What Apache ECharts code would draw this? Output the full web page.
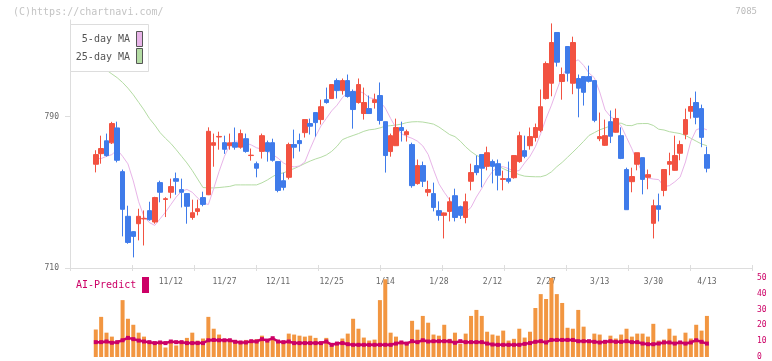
<!DOCTYPE html>
<html><head><meta charset="utf-8">
<script src="https://cdn.jsdelivr.net/npm/echarts@6/dist/echarts.min.js"></script>
<style>html,body{margin:0;padding:0;background:#fff}#c{width:772px;height:361px}</style>
</head><body><div id="c"></div>
<script>
const dates = ["10/22","10/23","10/24","10/27","10/28","10/29","10/30","10/31","11/4","11/5","11/6","11/7","11/10","11/11","11/12","11/13","11/14","11/17","11/18","11/19","11/20","11/21","11/25","11/26","11/27","11/28","12/1","12/2","12/3","12/4","12/5","12/8","12/9","12/10","12/11","12/12","12/15","12/16","12/17","12/18","12/19","12/22","12/23","12/24","12/25","12/26","12/29","12/30","1/5","1/6","1/7","1/8","1/9","1/13","1/14","1/15","1/16","1/19","1/20","1/21","1/22","1/23","1/26","1/27","1/28","1/29","1/30","2/2","2/3","2/4","2/5","2/6","2/9","2/10","2/12","2/13","2/16","2/17","2/18","2/19","2/20","2/24","2/25","2/26","2/27","3/2","3/3","3/4","3/5","3/6","3/9","3/10","3/11","3/12","3/13","3/16","3/17","3/18","3/19","3/23","3/24","3/25","3/26","3/27","3/30","3/31","4/1","4/2","4/3","4/6","4/7","4/8","4/9","4/10","4/13"];

const opens = [764.8,770.4,777.2,776.1,784.0,760.9,737.3,729.2,733.4,735.9,
740.3,734.3,755.1,746.2,750.0,757.2,751.4,749.3,736.7,739.9,
747.2,748.7,774.8,779.2,776.2,774.6,776.2,773.8,778.3,769.4,
765.1,771.6,776.2,776.2,766.2,756.1,757.9,775.2,777.3,781.5,
786.3,792.1,788.4,798.9,799.5,809.0,803.7,809.0,803.2,797.4,
791.6,794.2,797.4,801.1,787.3,771.5,774.6,784.2,780.4,775.2,
754.6,764.1,750.0,749.3,740.3,737.8,739.9,748.2,742.4,736.7,
755.8,764.1,769.9,763.7,766.2,765.1,756.8,757.2,757.7,766.2,
772.0,774.6,778.9,782.7,799.5,807.6,834.4,808.5,827.0,807.6,
810.1,811.1,811.1,809.0,778.3,774.8,787.3,781.7,779.9,762.0,
755.6,764.8,768.3,757.9,733.6,742.9,751.0,764.8,761.6,770.6,
780.6,792.8,797.4,794.2,769.9];

const closes = [769.9,773.1,769.4,786.3,766.9,741.0,723.5,726.7,737.3,736.2,
735.5,747.2,750.0,746.6,753.0,755.8,750.0,742.6,739.2,741.3,
743.6,782.2,776.2,779.5,772.7,776.1,773.8,781.0,771.6,769.6,
762.7,779.9,771.6,766.9,751.0,752.6,775.2,773.8,775.7,788.4,
784.9,786.8,795.2,797.4,806.9,803.7,809.0,800.6,793.7,806.9,
797.4,791.6,798.9,787.9,769.4,779.9,784.2,782.6,782.0,753.5,
764.1,755.8,751.4,742.0,737.8,739.1,745.0,736.7,737.8,745.0,
760.4,760.4,762.7,770.9,763.7,759.0,757.2,755.8,769.4,779.9,
769.0,779.4,784.2,795.2,818.0,829.1,818.7,812.2,812.9,829.1,
805.0,802.8,808.6,788.0,779.4,779.9,779.6,789.0,767.9,740.8,
758.3,770.9,756.8,759.3,742.9,741.0,762.0,766.2,769.4,775.2,
788.4,795.3,789.6,779.0,762.7];

const lows = [760.5,765.1,768.8,775.5,765.8,726.7,722.8,715.6,724.6,721.9,
735.0,733.4,744.7,736.9,746.8,748.7,742.0,733.4,735.5,737.8,
742.6,748.5,763.5,772.5,770.3,772.5,772.5,773.0,770.9,766.7,
757.9,767.8,766.2,766.2,750.0,751.0,756.8,767.9,771.5,778.9,
780.5,779.4,785.8,796.8,799.5,799.5,801.6,800.0,783.6,796.8,
788.4,791.6,794.2,785.8,760.4,768.8,774.6,776.8,776.8,752.4,
754.0,752.8,747.9,739.9,735.0,725.6,734.6,734.6,735.9,733.6,
751.0,759.0,752.6,761.6,754.7,751.0,751.0,754.7,757.2,765.6,
768.0,772.5,776.8,781.7,799.0,800.7,816.4,798.9,808.5,801.8,
789.6,795.8,808.0,787.0,777.0,774.5,776.0,781.5,767.5,740.8,
750.0,761.6,748.9,751.6,725.6,734.6,747.9,759.0,761.4,766.9,
778.0,788.9,785.9,773.8,760.5];

const highs = [772.2,779.9,781.0,787.2,787.3,762.0,742.9,729.5,741.3,740.4,
745.0,747.6,756.1,747.4,757.2,760.4,757.2,749.6,746.1,746.1,
750.3,784.3,781.0,782.0,779.9,781.0,784.2,783.1,781.0,773.1,
766.2,781.0,777.3,778.3,766.2,760.4,776.2,783.1,781.0,788.4,
788.9,792.1,798.9,805.3,806.9,810.1,810.1,812.2,804.3,810.1,
805.3,801.1,802.1,808.0,787.3,781.0,788.9,787.3,783.1,776.2,
767.3,766.2,756.1,755.1,745.2,739.3,747.3,751.9,742.9,749.3,
765.1,769.4,769.9,774.1,767.3,767.3,761.4,766.2,769.6,782.0,
779.9,784.2,786.3,804.3,819.1,839.2,834.4,815.9,827.0,832.2,
812.2,811.1,816.9,809.0,792.1,788.4,793.2,794.2,784.3,763.0,
763.0,770.9,768.3,762.0,746.1,749.3,762.0,770.9,779.9,777.3,
794.2,799.9,803.2,796.3,774.1];

const ma5 = [767.8,767.8,769.0,769.9,772.5,769.0,765.0,756.0,745.0,737.0,
734.0,732.5,736.0,739.5,743.5,747.5,750.5,751.5,750.0,747.0,
744.5,743.5,752.0,761.0,769.0,775.0,777.0,777.0,776.0,775.0,
773.5,772.7,771.6,769.9,768.0,765.5,764.0,763.4,763.9,766.0,
773.0,779.5,785.0,789.0,793.0,796.0,800.0,802.5,803.4,803.5,
802.3,800.0,799.3,798.0,794.5,789.0,784.0,781.0,779.5,778.5,
777.0,774.5,770.0,762.0,754.5,750.0,746.0,742.5,740.5,739.5,
742.0,747.5,752.0,757.0,761.0,763.5,763.5,762.5,761.0,761.5,
765.5,769.0,774.0,781.0,789.0,796.0,804.0,811.5,816.0,818.5,
820.0,817.0,813.0,810.5,803.0,793.5,790.0,788.0,785.0,779.0,
773.0,766.0,760.0,757.5,757.0,756.7,753.0,753.5,755.5,758.0,
766.0,777.0,783.0,784.0,783.0];

const ma25 = [819.0,817.0,814.5,812.5,810.5,808.0,805.0,801.5,797.5,793.5,
789.0,785.5,781.5,778.5,775.8,772.5,769.0,765.5,761.5,757.0,
752.5,752.3,752.3,752.5,752.8,753.1,753.9,753.9,753.9,753.9,
753.9,755.0,756.5,758.3,759.8,760.2,761.5,762.5,763.8,765.2,
766.5,767.6,768.5,769.7,771.6,774.3,777.8,779.0,780.0,781.0,
782.2,783.0,783.3,784.0,784.9,785.2,785.5,786.0,786.8,787.2,
787.3,787.1,786.6,786.0,784.5,782.5,780.5,779.4,777.0,774.0,
771.5,769.5,768.3,767.0,765.5,764.0,762.5,761.2,760.5,759.3,
758.5,758.3,758.2,758.2,759.0,760.8,763.5,765.8,768.5,771.2,
774.0,776.9,780.0,781.5,783.0,784.0,785.0,786.5,786.5,785.3,
785.2,786.2,786.3,786.3,785.3,783.3,782.9,782.0,781.5,781.0,
780.0,778.5,777.0,775.5,774.6];

const volume = [17.4,25.4,15.4,12.9,9.2,36.0,24.2,20.4,15.4,12.9,
9.2,9.2,9.2,6.0,9.2,7.3,9.2,12.1,15.4,10.4,
11.7,25.4,17.9,14.2,10.8,10.8,10.8,9.2,10.8,10.8,
11.3,13.5,10.8,11.7,9.2,9.2,14.8,14.2,13.5,12.9,
13.5,12.1,8.5,12.1,7.3,9.2,11.7,14.8,24.2,17.9,
12.3,10.4,11.0,36.0,49.2,15.4,12.9,8.3,8.3,22.9,
17.3,26.0,21.7,14.2,13.5,20.4,11.5,15.4,8.3,14.8,
26.0,29.8,26.0,16.0,14.2,13.5,16.7,10.4,11.5,17.9,
12.3,16.0,31.0,39.8,36.7,50.0,39.8,34.2,18.5,17.9,
29.8,19.2,9.4,14.8,14.2,9.2,13.5,11.7,14.2,17.9,
12.9,14.8,14.8,12.9,21.0,10.4,11.0,17.9,13.5,8.0,
15.4,11.7,20.4,16.7,26.0];

const aiPredict = [9.4,9.4,9.8,9.0,9.4,10.6,12.1,11.3,10.4,9.8,
9.4,8.8,9.2,8.8,9.8,9.4,9.4,8.8,8.8,8.8,
8.8,10.6,10.8,10.6,10.6,10.6,9.6,9.2,9.2,10.0,
9.8,11.3,10.4,11.9,9.8,9.4,9.8,8.8,8.8,8.8,
8.8,8.8,8.8,9.8,7.7,8.5,8.8,8.1,7.7,7.7,
7.7,7.7,7.7,7.7,7.7,7.7,8.5,9.2,8.5,10.0,
9.4,10.6,9.8,10.0,10.0,10.0,10.0,9.0,10.0,9.4,
9.4,9.4,9.4,8.5,7.9,7.7,7.7,7.7,7.7,7.7,
8.3,8.8,9.6,10.0,9.2,10.8,10.8,10.8,10.8,10.8,
10.0,10.0,10.0,9.6,9.2,9.6,10.0,9.6,9.6,10.0,
9.4,9.4,8.5,8.1,8.1,8.5,9.2,9.2,8.5,9.2,
8.5,9.2,10.6,9.6,8.5];

const priceTicks = [710, 790];
const priceMin = 710, priceMax = 841;
const volMax = 50, volInterval = 10;

const FONT = '"DejaVu Sans Mono","Liberation Mono",monospace';
const UP = '#f25241', DOWN = '#3f7bea';
const MA5C = '#e8b4e8', MA25C = '#b4dca4';
const VOLC = '#f29641', AIC = '#cc0066';
const AXC = '#dddddd';

const candles = dates.map((d, i) => [opens[i], closes[i], lows[i], highs[i]]);

const chart = echarts.init(document.getElementById('c'), null, {renderer: 'canvas'});
const gx = 93.1, gw = 616.5;
chart.setOption({
  animation: false,
  backgroundColor: '#ffffff',
  grid: [
    {left: 70, width: 682, top: 20, height: 248},
    {left: gx, width: gw, top: 20, height: 248},
    {left: gx, width: gw, top: 278, height: 80}
  ],
  xAxis: [
    {type: 'value', gridIndex: 0, min: 0, max: 11, interval: 1, position: 'bottom',
     axisLine: {show: true, lineStyle: {color: AXC}}, axisTick: {show: true, inside: true, length: 3, lineStyle: {color: AXC}},
     axisLabel: {show: false}, splitLine: {show: false}},
    {type: 'value', gridIndex: 0, min: 0, max: 11, interval: 1, position: 'bottom',
     axisLine: {show: true, lineStyle: {color: AXC}}, axisTick: {show: true, inside: false, length: 3, lineStyle: {color: AXC}},
     axisLabel: {show: false}, splitLine: {show: false}},
    {type: 'category', gridIndex: 1, data: dates, boundaryGap: true,
     axisLine: {show: false}, axisTick: {show: false}, splitLine: {show: false},
     axisLabel: {show: true, color: '#666', fontFamily: FONT, fontSize: 8, margin: 10,
       interval: function (idx) { return idx >= 14 && (idx - 14) % 10 === 0; }}},
    {type: 'category', gridIndex: 2, data: dates, boundaryGap: true,
     axisLine: {show: false}, axisTick: {show: false}, axisLabel: {show: false}, splitLine: {show: false}}
  ],
  yAxis: [
    {type: 'value', gridIndex: 0, min: priceMin, max: priceMax,
     axisLine: {show: true, lineStyle: {color: AXC}},
     axisTick: {show: true, length: 5, customValues: priceTicks, lineStyle: {color: AXC}},
     axisLabel: {show: true, customValues: priceTicks, color: '#666', fontFamily: FONT, fontSize: 8, margin: 11},
     splitLine: {show: false}},
    {type: 'value', gridIndex: 0, min: priceMin, max: priceMax,
     axisLine: {show: false},
     axisTick: {show: true, inside: true, length: 4, customValues: priceTicks, lineStyle: {color: AXC}},
     axisLabel: {show: false}, splitLine: {show: false}},
    {type: 'value', gridIndex: 1, min: priceMin, max: priceMax, show: false},
    {type: 'value', gridIndex: 2, min: 0, max: volMax, interval: volInterval, position: 'right', offset: 752 - (gx + gw),
     axisLine: {show: false}, axisTick: {show: false}, splitLine: {show: false},
     axisLabel: {show: true, color: AIC, fontFamily: FONT, fontSize: 8, margin: 5}}
  ],
  series: [
    {type: 'bar', xAxisIndex: 3, yAxisIndex: 3, data: volume, barWidth: 4,
     itemStyle: {color: VOLC}, z: 2},
    {type: 'line', xAxisIndex: 3, yAxisIndex: 3, data: aiPredict, symbol: 'rect', symbolSize: 4,
     showAllSymbol: true, lineStyle: {color: AIC, width: 2.5}, itemStyle: {color: AIC}, z: 3},
    {type: 'line', xAxisIndex: 2, yAxisIndex: 2, data: ma25, symbol: 'none',
     lineStyle: {color: MA25C, width: 1}, z: 2},
    {type: 'line', xAxisIndex: 2, yAxisIndex: 2, data: ma5, symbol: 'none',
     lineStyle: {color: MA5C, width: 1}, z: 3},
    {type: 'candlestick', xAxisIndex: 2, yAxisIndex: 2, data: candles, barWidth: 5,
     itemStyle: {color: UP, color0: DOWN, borderColor: UP, borderColor0: DOWN, borderWidth: 1}, z: 4}
  ],
  graphic: [
    {type: 'text', left: 13, top: 7, z: 100, style: {text: '(C)https://chartnavi.com/', font: '10px ' + FONT, fill: '#c4c4c4'}},
    {type: 'text', right: 15, top: 7, z: 100, style: {text: '7085', font: '9px ' + FONT, fill: '#bbbbbb'}},
    {type: 'rect', z: 100, shape: {x: 70.5, y: 24.5, width: 78, height: 47}, style: {fill: '#ffffff', stroke: '#dddddd', lineWidth: 1}},
    {type: 'text', z: 101, x: 130, y: 39, style: {text: '5-day MA', font: '10px ' + FONT, fill: '#555555', align: 'right', verticalAlign: 'middle'}},
    {type: 'text', z: 101, x: 130, y: 57, style: {text: '25-day MA', font: '10px ' + FONT, fill: '#555555', align: 'right', verticalAlign: 'middle'}},
    {type: 'rect', z: 101, shape: {x: 136.5, y: 31.5, width: 6, height: 15}, style: {fill: MA5C, stroke: '#555555', lineWidth: 1}},
    {type: 'rect', z: 101, shape: {x: 136.5, y: 48.5, width: 6, height: 15}, style: {fill: MA25C, stroke: '#555555', lineWidth: 1}},
    {type: 'text', z: 101, x: 76, y: 285, style: {text: 'AI-Predict', font: '10px ' + FONT, fill: AIC, verticalAlign: 'middle'}},
    {type: 'rect', z: 101, shape: {x: 142, y: 277, width: 7, height: 16}, style: {fill: AIC}}
  ]
});
</script>
</body></html>
